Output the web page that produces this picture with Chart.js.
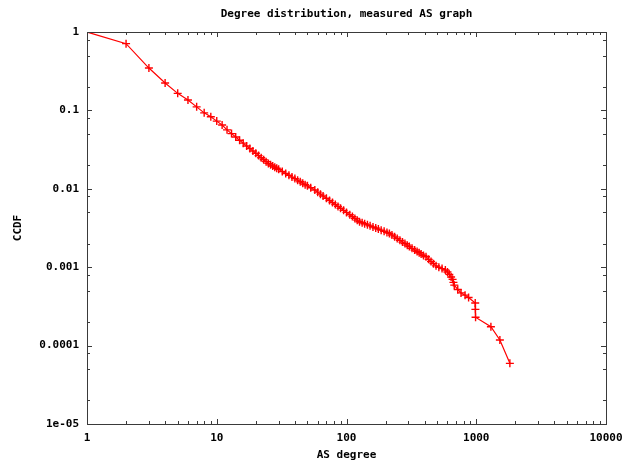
<!DOCTYPE html>
<html>
<head>
<meta charset="utf-8">
<script src="https://cdn.jsdelivr.net/npm/chart.js@4"></script>
<style>
  body { margin: 0; background: #fff; }
  canvas { display: block; }
</style>
</head>
<body>
<canvas id="degChart" width="624" height="461"></canvas>
<script>
// AS degree (x) and CCDF (y)
const degrees = [1, 2, 3, 4, 5, 6, 7, 8, 9, 10, 11, 12, 13, 14, 15, 16, 17, 18, 19, 20,
  21, 22, 23, 24, 25, 26, 27, 28, 29, 30, 32, 34, 36, 38, 40, 42, 44, 46, 48, 50, 53, 57,
  60, 63, 66, 70, 74, 78, 82, 86, 90, 95, 100, 106, 111, 116, 121, 126, 132, 138, 145, 152,
  160, 168, 176, 185, 195, 205, 214, 224, 235, 246, 258, 270, 282, 294, 305, 320, 335, 350,
  363, 376, 392, 410, 430, 448, 468, 490, 515, 545, 578, 600, 620, 640, 657, 667, 677, 720,
  763, 820, 873, 982, 985, 988, 1297, 1521, 1816];
const ccdf = [1, 0.71, 0.347, 0.224, 0.165, 0.136, 0.111, 0.093, 0.083, 0.073, 0.065, 0.0565,
  0.0506, 0.0457, 0.0416, 0.0382, 0.0352, 0.0326, 0.0303, 0.0284, 0.0265, 0.0249, 0.0235,
  0.0222, 0.0211, 0.0202, 0.0195, 0.0189, 0.0183, 0.0177, 0.0166, 0.0157, 0.0149, 0.0141,
  0.0135, 0.0129, 0.0123, 0.0118, 0.0113, 0.0109, 0.0103, 0.00966, 0.00906, 0.00855, 0.0081,
  0.00757, 0.0071, 0.00667, 0.0063, 0.00596, 0.00565, 0.00531, 0.005, 0.00467, 0.00442,
  0.00419, 0.00398, 0.0038, 0.00369, 0.00358, 0.00347, 0.00337, 0.00326, 0.00316, 0.00306,
  0.00297, 0.00287, 0.00278, 0.0027, 0.00258, 0.00244, 0.00232, 0.0022, 0.00209, 0.002,
  0.00191, 0.00183, 0.00174, 0.00166, 0.00159, 0.00153, 0.00147, 0.00141, 0.00136, 0.00126,
  0.00118, 0.00111, 0.00104, 0.001, 0.00096, 0.00092, 0.00087, 0.00081, 0.00075, 0.0007,
  0.00064, 0.00059, 0.00052, 0.00047, 0.00044, 0.00041, 0.00035, 0.00029, 0.00023, 0.000174,
  0.000118, 0.0000594];

const xTicks = [1, 2, 3, 4, 5, 6, 7, 8, 9, 10, 20, 30, 40, 50, 60, 70, 80, 90, 100,
  200, 300, 400, 500, 600, 700, 800, 900, 1000, 2000, 3000, 4000, 5000, 6000, 7000, 8000, 9000, 10000];
const xTickLabels = { 1: "1", 10: "10", 100: "100", 1000: "1000", 10000: "10000" };
const yTicks = [1e-5, 2e-5, 5e-5, 8e-5, 1e-4, 2e-4, 5e-4, 8e-4, 1e-3, 2e-3, 5e-3, 8e-3,
  0.01, 0.02, 0.05, 0.08, 0.1, 0.2, 0.5, 0.8, 1];
const yTickLabels = ["1e-05", "0.0001", "0.001", "0.01", "0.1", "1"];

const font = { family: "'DejaVu Sans Mono', monospace", size: 11, weight: "bold" };

function isDecade(v) {
  const l = Math.log10(v);
  return Math.abs(l - Math.round(l)) < 1e-9;
}

// gnuplot style: frame plus inward ticks on all four sides
const framePlugin = {
  id: "frame",
  afterDraw(chart) {
    const { ctx, chartArea: a, scales } = chart;
    ctx.save();
    ctx.strokeStyle = "#3a3a3a";
    ctx.lineWidth = 1;
    ctx.beginPath();
    scales.x.ticks.forEach(t => {
      const px = Math.round(scales.x.getPixelForValue(t.value)) + 0.5;
      const len = isDecade(t.value) ? 5 : 3;
      ctx.moveTo(px, a.bottom); ctx.lineTo(px, a.bottom - len);
      ctx.moveTo(px, a.top); ctx.lineTo(px, a.top + len);
    });
    scales.y.ticks.forEach(t => {
      const py = Math.round(scales.y.getPixelForValue(t.value)) + 0.5;
      const len = isDecade(t.value) ? 5 : 3;
      ctx.moveTo(a.left, py); ctx.lineTo(a.left + len, py);
      ctx.moveTo(a.right, py); ctx.lineTo(a.right - len, py);
    });
    ctx.stroke();
    ctx.strokeRect(Math.round(a.left) + 0.5, Math.round(a.top) + 0.5,
      Math.round(a.right - a.left), Math.round(a.bottom - a.top));
    ctx.restore();
  }
};

const ctx = document.getElementById("degChart").getContext("2d");

new Chart(ctx, {
  type: "scatter",
  data: {
    datasets: [{
      data: degrees.map((d, i) => ({ x: d, y: ccdf[i] })),
      showLine: true,
      borderColor: "#ff0000",
      borderWidth: 1.2,
      pointStyle: "cross",
      pointRadius: 4,
      pointBorderWidth: 1.4,
      pointBorderColor: "#ff0000"
    }]
  },
  options: {
    responsive: false,
    animation: false,
    layout: { padding: { left: 0, right: 18, top: 0, bottom: 0 } },
    plugins: {
      legend: { display: false },
      tooltip: { enabled: false },
      title: {
        display: true,
        text: "Degree distribution, measured AS graph",
        color: "#000",
        font: font,
        fullSize: false,
        padding: { top: 7.4, bottom: 11.4 }
      }
    },
    scales: {
      x: {
        type: "logarithmic",
        min: 1,
        max: 10000,
        afterBuildTicks: s => { s.ticks = xTicks.map(v => ({ value: v })); },
        afterFit: s => { s.height = 37; s.paddingLeft = 0; s.paddingRight = 0; },
        grid: { display: false, drawTicks: false },
        border: { display: false },
        ticks: {
          autoSkip: false,
          maxRotation: 0,
          padding: 8,
          color: "#000",
          font: font,
          callback: v => xTickLabels[v] || ""
        },
        title: {
          display: true,
          text: "AS degree",
          color: "#000",
          font: { ...font, lineHeight: 1 },
          padding: { top: 0, bottom: 0 }
        }
      },
      y: {
        type: "logarithmic",
        min: 1e-5,
        max: 1,
        afterBuildTicks: s => { s.ticks = yTicks.map(v => ({ value: v })); },
        afterFit: s => { s.width = 87; s.paddingTop = 0; s.paddingBottom = 0; },
        grid: { display: false, drawTicks: false },
        border: { display: false },
        ticks: {
          autoSkip: false,
          padding: 8,
          color: "#000",
          font: font,
          callback: v => isDecade(v) ? yTickLabels[Math.round(Math.log10(v)) + 5] : ""
        },
        title: {
          display: true,
          text: "CCDF",
          color: "#000",
          font: { ...font, lineHeight: 1 },
          padding: { top: 13, bottom: 0 }
        }
      }
    }
  },
  plugins: [framePlugin]
});
</script>
</body>
</html>
